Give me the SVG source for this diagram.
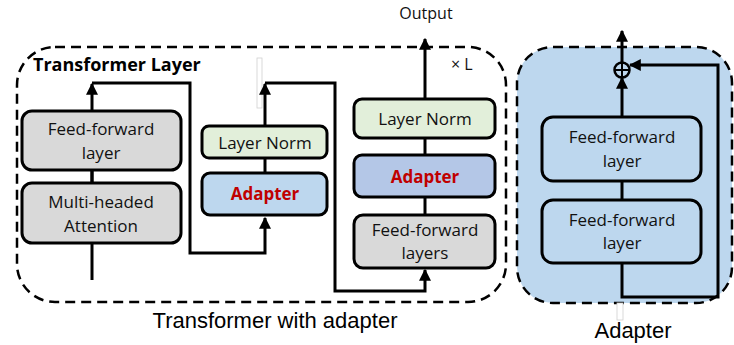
<svg xmlns="http://www.w3.org/2000/svg" width="734" height="345" viewBox="0 0 734 345">
<style>
.box{stroke:#000;stroke-width:3}
.gray{fill:#D9D9D9}
.green{fill:#E2EFDA}
.blue{fill:#BDD7EE}
.blue2{fill:#B4C7E7}
.t{font-family:"Open Sans","Noto Sans",sans-serif;font-size:17px;fill:#111;text-anchor:middle}
.red{font-family:"Open Sans","Noto Sans",sans-serif;font-size:17px;font-weight:bold;fill:#C00000;text-anchor:middle}
.ln{fill:none;stroke:#000;stroke-width:3}
.dash{stroke:#000;stroke-width:2.5;stroke-dasharray:10 6}
.cap{font-family:"Liberation Sans",Arial,sans-serif;fill:#000;text-anchor:middle}
</style>
<defs>
<marker id="ah" viewBox="0 0 10 10" refX="9" refY="5" markerWidth="4" markerHeight="4" orient="auto" markerUnits="strokeWidth">
<path d="M0,0 L10,5 L0,10 z" fill="#000"/>
</marker>
</defs>

<g id="adapter-panel">
<rect x="517" y="47" width="215" height="256" rx="36" class="dash" style="fill:#BDD7EE"/>
</g>
<g id="transformer-panel">
<rect x="17" y="47" width="489" height="255" rx="38" class="dash" style="fill:none"/>
</g>

<g id="artifacts" fill="#fff" stroke="#d0d0d0" stroke-width="0.8">
<rect x="257" y="58" width="5" height="50"/>
<rect x="617" y="303" width="6" height="17"/>
</g>

<g id="connectors">
<path class="ln" d="M92,280 L92,84" marker-end="url(#ah)"/>
<path class="ln" d="M92,83 L190,83 L190,253 L265,253 L265,218" marker-end="url(#ah)"/>
<path class="ln" d="M265,173 L265,158"/>
<path class="ln" d="M265,126 L265,84" marker-end="url(#ah)"/>
<path class="ln" d="M265,83 L335,83 L335,291 L425,291 L425,270" marker-end="url(#ah)"/>
<path class="ln" d="M425,215 L425,197"/>
<path class="ln" d="M425,155 L425,138"/>
<path class="ln" d="M425,99 L425,39" marker-end="url(#ah)"/>
<path class="ln" d="M92,170 L92,183"/>
<path class="ln" d="M622,263 L622,297 L718,297 L718,65 L630,65" marker-end="url(#ah)"/>
<path class="ln" d="M622,200 L622,181"/>
<path class="ln" d="M622,117 L622,78" marker-end="url(#ah)"/>
<path class="ln" d="M622,62 L622,31" marker-end="url(#ah)"/>
</g>

<g id="plus">
<circle cx="622" cy="70" r="7.5" fill="none" stroke="#000" stroke-width="2.5"/>
<path d="M614.5,70 H629.5 M622,62.5 V77.5" stroke="#000" stroke-width="2"/>
</g>

<g id="ff-left">
<rect x="22" y="111" width="159" height="59" rx="10" class="box gray"/>
<text class="t" x="101" y="135">Feed-forward</text>
<text class="t" x="101" y="159">layer</text>
</g>
<g id="mha">
<rect x="22" y="183" width="159" height="60" rx="10" class="box gray"/>
<text class="t" x="101" y="208">Multi-headed</text>
<text class="t" x="101" y="232">Attention</text>
</g>
<g id="ln-mid">
<rect x="202" y="126" width="125" height="32" rx="7" class="box green"/>
<text class="t" x="265" y="149">Layer Norm</text>
</g>
<g id="adapter-mid">
<rect x="202" y="173" width="125" height="42" rx="8" class="box blue"/>
<text class="red" x="265" y="200">Adapter</text>
</g>
<g id="ln-right">
<rect x="354" y="99" width="141" height="39" rx="8" class="box green"/>
<text class="t" x="425" y="125">Layer Norm</text>
</g>
<g id="adapter-right">
<rect x="354" y="155" width="141" height="42" rx="8" class="box blue2"/>
<text class="red" x="425" y="183">Adapter</text>
</g>
<g id="ff-right">
<rect x="354" y="215" width="141" height="53" rx="9" class="box gray"/>
<text class="t" x="425" y="236">Feed-forward</text>
<text class="t" x="425" y="259">layers</text>
</g>
<g id="ff-a1">
<rect x="542" y="117" width="159" height="64" rx="11" class="box blue"/>
<text class="t" x="622" y="143">Feed-forward</text>
<text class="t" x="622" y="167">layer</text>
</g>
<g id="ff-a2">
<rect x="542" y="200" width="159" height="63" rx="11" class="box blue"/>
<text class="t" x="622" y="226">Feed-forward</text>
<text class="t" x="622" y="249">layer</text>
</g>

<g id="labels">
<text x="33" y="71" font-family="'Open Sans','Noto Sans',sans-serif" font-size="18" font-weight="bold" fill="#000">Transformer Layer</text>
<text x="426" y="19" font-family="'Open Sans','Noto Sans',sans-serif" font-size="16" fill="#111" text-anchor="middle">Output</text>
<text x="451" y="70" font-family="'Open Sans','Noto Sans',sans-serif" font-size="16" fill="#111">× L</text>
<text class="cap" x="275" y="328" font-size="22">Transformer with adapter</text>
<text class="cap" x="633" y="338" font-size="22">Adapter</text>
</g>
</svg>
